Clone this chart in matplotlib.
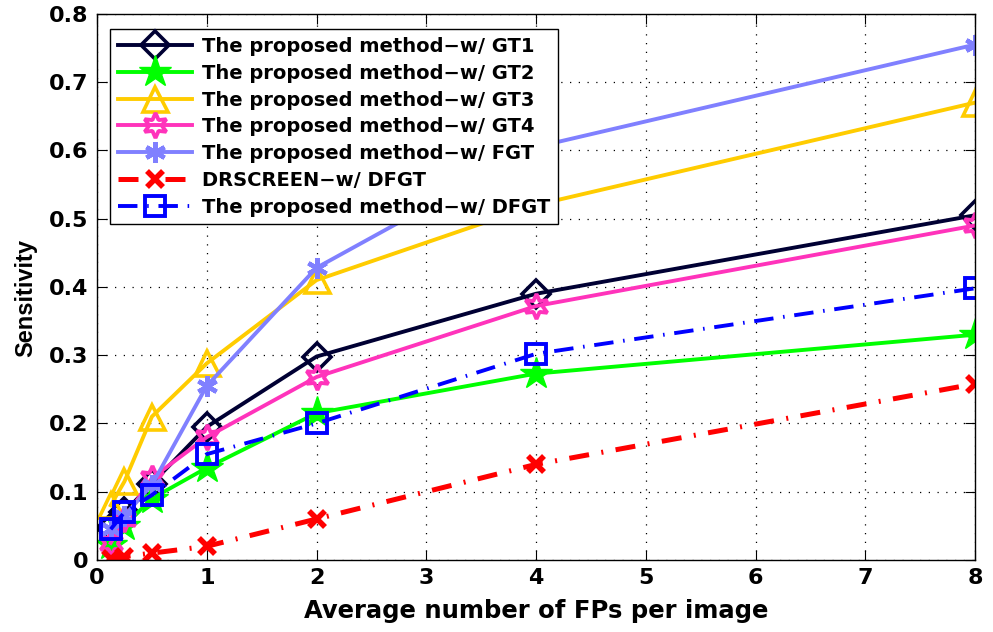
import matplotlib
matplotlib.use("Agg")
import matplotlib.pyplot as plt

plt.rcParams["font.family"] = ["DejaVu Sans"]
plt.rcParams["font.weight"] = "bold"

fps = [0.125, 0.25, 0.5, 1, 2, 4, 8]

gt1 = [0.047, 0.070, 0.112, 0.195, 0.298, 0.390, 0.505]
gt2 = [0.022, 0.050, 0.090, 0.135, 0.215, 0.273, 0.330]
gt3 = [0.080, 0.115, 0.210, 0.288, 0.410, 0.520, 0.670]
gt4 = [0.025, 0.060, 0.120, 0.180, 0.268, 0.372, 0.490]
fgt = [0.045, 0.065, 0.110, 0.255, 0.428, 0.605, 0.755]
drscreen = [0.002, 0.005, 0.010, 0.020, 0.060, 0.140, 0.258]
dfgt = [0.045, 0.070, 0.095, 0.155, 0.200, 0.302, 0.398]

labels = [
    "The proposed method\u2212w/ GT1",
    "The proposed method\u2212w/ GT2",
    "The proposed method\u2212w/ GT3",
    "The proposed method\u2212w/ GT4",
    "The proposed method\u2212w/ FGT",
    "DRSCREEN\u2212w/ DFGT",
    "The proposed method\u2212w/ DFGT",
]

fig = plt.figure(figsize=(9.93, 6.32), dpi=100)
ax = fig.add_axes([0.0977, 0.114, 0.8842, 0.864])

lw = 2.8
ax.plot(fps, gt1, "-", color="#000033", lw=lw, marker="D", ms=14,
        mfc="none", mew=2.6, label=labels[0])
ax.plot(fps, gt2, "-", color="#00FF00", lw=lw, marker="*", ms=24,
        mfc="#00FF00", mew=1, label=labels[1])
ax.plot(fps, gt3, "-", color="#FFCC00", lw=lw, marker="^", ms=18,
        mfc="none", mew=2.6, label=labels[2])
ax.plot(fps, gt4, "-", color="#FF33BB", lw=lw, marker=(6, 1, 0), ms=18,
        mfc="none", mew=2.8, label=labels[3])
ax.plot(fps, fgt, "-", color="#8080FF", lw=lw, marker=(6, 2, 0), ms=15,
        mew=3.2, label=labels[4])
ax.plot(fps, drscreen, color="#FF0000", lw=3.6, ls=(0, (4, 2.5, 0.4, 2.5)),
        marker="x", ms=12, mew=4, label=labels[5])
ax.plot(fps, dfgt, color="#0000FF", lw=2.8, ls=(0, (5, 2.5, 0.4, 2.5)),
        marker="s", ms=14, mfc="none", mew=2.8, label=labels[6])

ax.set_xlim(0, 8)
ax.set_ylim(0, 0.8)
ax.set_xticks(range(0, 9))
ax.set_yticks([i / 10 for i in range(9)])
ax.set_yticklabels(["0"] + [f"{i / 10:.1f}" for i in range(1, 9)])
ax.tick_params(direction="in", top=True, right=True, labelsize=16, length=7,
               pad=6)
for lab in ax.get_xticklabels() + ax.get_yticklabels():
    lab.set_fontweight("bold")
ax.grid(True, linestyle=(0, (1, 6)), color="k", lw=0.9)
for s in ax.spines.values():
    s.set_linewidth(1.0)

ax.set_xlabel("Average number of FPs per image", fontsize=17.5,
              fontweight="bold", labelpad=8)
ax.set_ylabel("Sensitivity", fontsize=17, fontweight="bold",
              family="Liberation Sans")
ax.yaxis.set_label_coords(-0.068, 0.48)

leg = ax.legend(loc="upper left", bbox_to_anchor=(0.015, 0.972),
                prop={"weight": "bold", "size": 14}, fancybox=False,
                edgecolor="k", framealpha=1, handlelength=3.8,
                labelspacing=0.4, borderpad=0.4, handletextpad=0.5,
                borderaxespad=0.0)
leg.get_frame().set_linewidth(1.0)

fig.savefig("out.png", dpi=100)
